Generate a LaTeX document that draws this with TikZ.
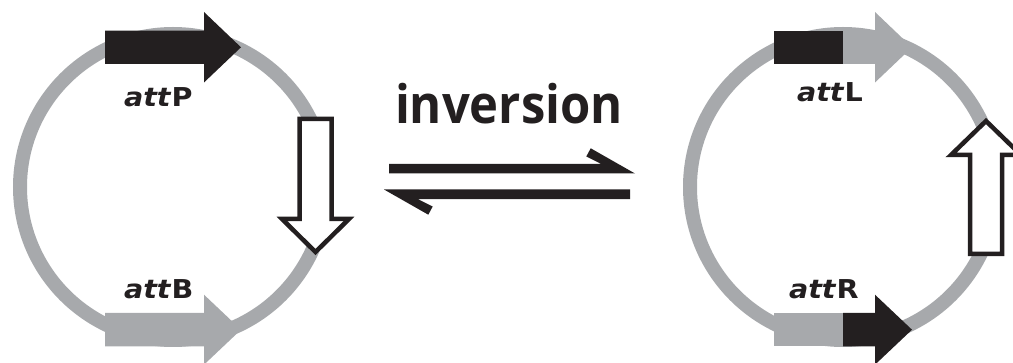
\documentclass[tikz,border=0pt]{standalone}
\usepackage{fontspec}
\setmainfont{DejaVu Sans}
\newfontfamily\invfont{Open Sans}
\definecolor{ringgray}{HTML}{A7A9AC}
\definecolor{ink}{HTML}{231F20}
\newcommand{\attlabel}[1]{\scalebox{1.1}[1]{\fontsize{26}{26}\selectfont\bfseries\textit{att}#1}}
\tikzset{
  ring/.style={draw=ringgray, line width=14pt},
  blackpart/.style={fill=ink, draw=none},
  graypart/.style={fill=ringgray, draw=none},
  openarrow/.style={draw=ink, fill=white, line width=4.5pt, miter limit=10},
  harpoon/.style={fill=ink, draw=none},
  lbl/.style={anchor=base west, inner sep=0pt, outer sep=0pt, text=ink}
}
\begin{document}
\begin{tikzpicture}[x=1pt,y=-1pt]
\useasboundingbox (0,0) rectangle (1013,363);
% ---------- left plasmid ----------
\draw[ring] (173,187) circle[radius=153];
% attP (black)
\fill[blackpart] (105,30.7) -- (204,30.7) -- (204,12) -- (241,47.3) -- (204,82.5) -- (204,64) -- (105,64) -- cycle;
% attB (gray)
\fill[graypart] (105,313) -- (204,313) -- (204,294.7) -- (241,329.7) -- (204,364.7) -- (204,346.5) -- (105,346.5) -- cycle;
% open arrow down
\draw[openarrow] (299.5,119) -- (331.5,119) -- (331.5,219) -- (349,219) -- (315.5,252) -- (282,219) -- (299.5,219) -- cycle;
\node[lbl] (attP) at (124,106.7) {\attlabel{P}};
\node[lbl] (attB) at (124,299) {\attlabel{B}};
% ---------- middle ----------
\node[lbl] (inv) at (395,123.3) {\resizebox{228pt}{40.3pt}{\invfont\bfseries inversion}};
\fill[harpoon] (389,163.8) -- (601,163.8) -- (586.3,156.5) -- (590.7,148.3) -- (635,173.5) -- (389,173.5) -- cycle;
\fill[harpoon] (630,189.5) -- (384,189.5) -- (428.3,214.7) -- (432.7,206.5) -- (418,199.2) -- (630,199.2) -- cycle;
% ---------- right plasmid ----------
\draw[ring] (843,187) circle[radius=153];
% attL
\fill[blackpart] (774,30.7) rectangle (843.5,64);
\fill[graypart] (843,30.7) -- (875,30.7) -- (875,12) -- (912,47.3) -- (875,82.5) -- (875,64) -- (843,64) -- cycle;
% attR
\fill[graypart] (774,313) rectangle (843.5,346.5);
\fill[blackpart] (843,313) -- (875,313) -- (875,294.7) -- (912,329.7) -- (875,364.7) -- (875,346.5) -- (843,346.5) -- cycle;
% open arrow up
\draw[openarrow] (970,254) -- (1002,254) -- (1002,155) -- (1021,155) -- (986,121) -- (951,155) -- (970,155) -- cycle;
\node[lbl] (attL) at (797,101.7) {\attlabel{L}};
\node[lbl] (attR) at (789,299) {\attlabel{R}};
\end{tikzpicture}
\end{document}
